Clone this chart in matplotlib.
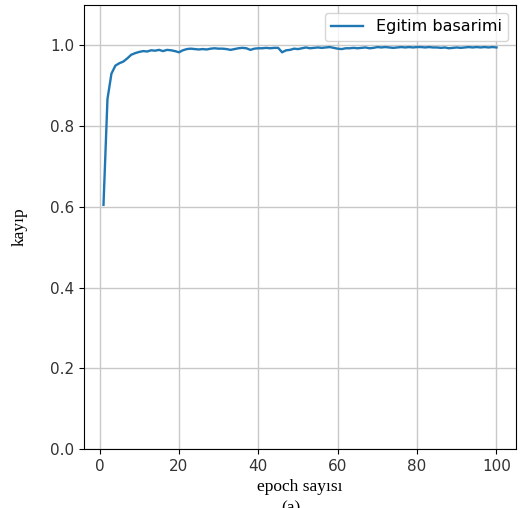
import matplotlib.pyplot as plt

# epoch-wise training accuracy
epochs = list(range(1, 101))
accuracy = [
    0.605, 0.867, 0.930, 0.950, 0.956, 0.960, 0.968, 0.977, 0.981, 0.984,
    0.986, 0.985, 0.988, 0.987, 0.989, 0.986, 0.989, 0.988, 0.986, 0.983,
    0.988, 0.991, 0.992, 0.991, 0.990, 0.991, 0.990, 0.992, 0.993, 0.992,
    0.992, 0.991, 0.989, 0.991, 0.993, 0.994, 0.993, 0.989, 0.992, 0.993,
    0.993, 0.994, 0.993, 0.994, 0.994, 0.983, 0.988, 0.989, 0.992, 0.991,
    0.993, 0.995, 0.993, 0.994, 0.995, 0.994, 0.995, 0.996, 0.994, 0.992,
    0.991, 0.993, 0.993, 0.994, 0.993, 0.994, 0.995, 0.993, 0.994, 0.996,
    0.995, 0.996, 0.995, 0.994, 0.995, 0.996, 0.995, 0.996, 0.995, 0.996,
    0.996, 0.995, 0.996, 0.995, 0.995, 0.994, 0.995, 0.993, 0.994, 0.995,
    0.994, 0.995, 0.996, 0.995, 0.996, 0.995, 0.996, 0.995, 0.996, 0.995,
]

fig = plt.figure(figsize=(5.24, 5.08), dpi=100)
ax = fig.add_axes([0.160, 0.116, 0.825, 0.874])
ax.plot(epochs, accuracy, label='Egitim basarimi', linewidth=1.7)
ax.grid(True, color='#c8c8c8', linewidth=1.0)
ax.set_ylim(0, 1.1)
ax.tick_params(labelsize=11, labelcolor='#333333')
ax.set_xlabel('epoch sayısı', family='Liberation Serif', fontsize=12.5)
ax.set_ylabel('kayıp', family='Liberation Serif', fontsize=12.5, labelpad=16)
ax.legend(loc='upper right', fontsize=11.5)
fig.text(0.555, 0.0, '(a)', family='Liberation Serif', fontsize=12.5,
         ha='center', va='center')

plt.savefig('out.png', dpi=100)
